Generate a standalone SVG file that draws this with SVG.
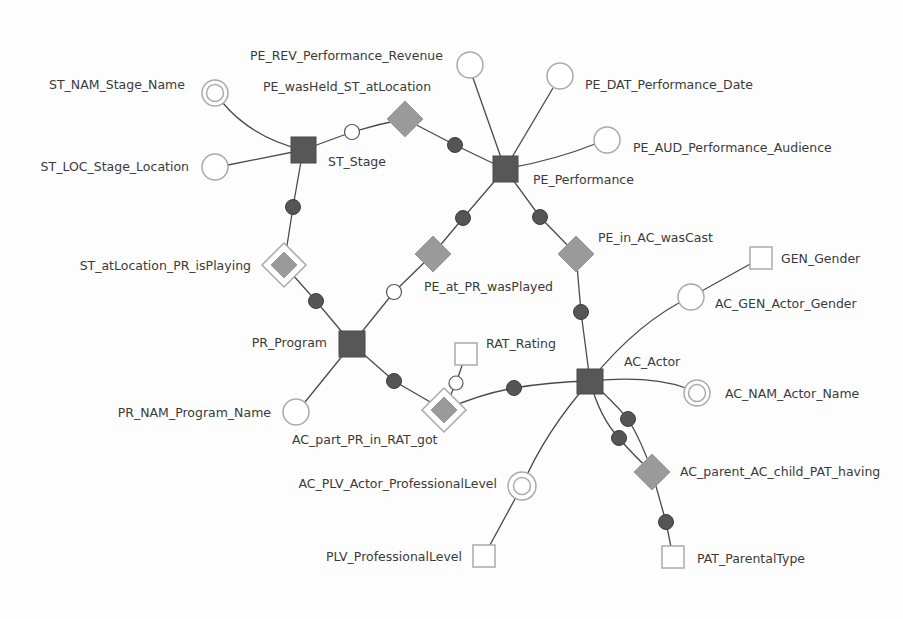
<svg xmlns="http://www.w3.org/2000/svg" width="903" height="619" viewBox="0 0 903 619">
<style>
text{font-family:"DejaVu Sans",Verdana,sans-serif;font-size:12.5px;fill:#3a3a3a}
.e{fill:none;stroke:#4a4a4a;stroke-width:1.3}
.anchor{fill:#575757;stroke:#4a4a4a;stroke-width:1}
.tie{fill:#9a9a9a;stroke:#9a9a9a;stroke-width:1}
.dot{fill:#555;stroke:#3c3c3c;stroke-width:1}
.open{fill:#fff;stroke:#555;stroke-width:1.2}
.attr{fill:#fff;stroke:#aaa;stroke-width:1.5}
.knot{fill:#fff;stroke:#aaa;stroke-width:1.5}
.end{text-anchor:end}
</style>
<rect width="903" height="619" fill="#fdfdfd"/>
<g id="connectors">
<path class="e" d="M222,102 Q252,138 303,150"/>
<path class="e" d="M228,165 L303,150"/>
<path class="e" d="M303,150 Q330,140 352,132 Q378,124 405,119"/>
<path class="e" d="M405,119 L455,145 L505,169"/>
<path class="e" d="M473,78 L505,169"/>
<path class="e" d="M553,88 L505,169"/>
<path class="e" d="M595,144 Q555,160 505,169"/>
<path class="e" d="M505,169 L463,218 L433,254 L394,292 L352,344"/>
<path class="e" d="M505,169 L540,217 L576,254 L581,312 L590,381"/>
<path class="e" d="M303,150 L293,207 L284,265 L316,301 L352,344"/>
<path class="e" d="M352,344 L305,402"/>
<path class="e" d="M352,344 L394,381 L444,410"/>
<path class="e" d="M444,410 L456,383 L466,354"/>
<path class="e" d="M444,410 Q480,394 514,388 Q550,382 590,381"/>
<path class="e" d="M590,381 Q650,375 686,388"/>
<path class="e" d="M590,381 Q640,320 691,297 L761,258"/>
<path class="e" d="M590,381 Q545,432 522,486 L484,556"/>
<path class="e" d="M590,381 Q612,400 628,419 Q642,442 652,472"/>
<path class="e" d="M590,381 Q600,418 619,438 Q633,455 652,472"/>
<path class="e" d="M652,472 L666,522 L673,557"/>
</g>
<g id="ST_NAM_Stage_Name"><circle class="attr" cx="215" cy="93" r="13"/><circle class="attr" cx="215" cy="93" r="8.5"/><text class="end" x="185" y="89">ST_NAM_Stage_Name</text></g>
<g id="ST_LOC_Stage_Location"><circle class="attr" cx="215" cy="167" r="13"/><text class="end" x="189" y="171">ST_LOC_Stage_Location</text></g>
<g id="ST_Stage"><rect class="anchor" x="291" y="137" width="25" height="26"/><text x="328" y="166">ST_Stage</text></g>
<g id="PE_wasHeld_ST_atLocation"><circle class="open" cx="352" cy="132" r="7.5"/><polygon class="tie" points="405,101 423,119 405,137 387,119"/><circle class="dot" cx="455" cy="145" r="7.5"/><text x="263" y="91">PE_wasHeld_ST_atLocation</text></g>
<g id="PE_REV_Performance_Revenue"><circle class="attr" cx="470" cy="65" r="13"/><text x="250" y="60">PE_REV_Performance_Revenue</text></g>
<g id="PE_DAT_Performance_Date"><circle class="attr" cx="560" cy="76" r="13"/><text x="585" y="89">PE_DAT_Performance_Date</text></g>
<g id="PE_AUD_Performance_Audience"><circle class="attr" cx="607" cy="140" r="13"/><text x="633" y="152">PE_AUD_Performance_Audience</text></g>
<g id="PE_Performance"><rect class="anchor" x="493" y="156" width="25" height="26"/><text x="533" y="184">PE_Performance</text></g>
<g id="PE_at_PR_wasPlayed"><circle class="dot" cx="463" cy="218" r="7.5"/><polygon class="tie" points="433,236 451,254 433,272 415,254"/><circle class="open" cx="394" cy="292" r="7.5"/><text x="424" y="291">PE_at_PR_wasPlayed</text></g>
<g id="PE_in_AC_wasCast"><circle class="dot" cx="540" cy="217" r="7.5"/><polygon class="tie" points="576,236 594,254 576,272 558,254"/><circle class="dot" cx="581" cy="312" r="7.5"/><text x="598" y="242">PE_in_AC_wasCast</text></g>
<g id="ST_atLocation_PR_isPlaying"><circle class="dot" cx="293" cy="207" r="7.5"/><polygon points="284,243 306,265 284,287 262,265" fill="#fff" stroke="#aaa" stroke-width="1.5"/><polygon class="tie" points="284,252 297,265 284,278 271,265"/><circle class="dot" cx="316" cy="301" r="7.5"/><text class="end" x="251" y="270">ST_atLocation_PR_isPlaying</text></g>
<g id="PR_Program"><rect class="anchor" x="339" y="331" width="26" height="26"/><text class="end" x="327" y="347">PR_Program</text></g>
<g id="PR_NAM_Program_Name"><circle class="attr" cx="296" cy="412" r="13"/><text class="end" x="271" y="417">PR_NAM_Program_Name</text></g>
<g id="AC_part_PR_in_RAT_got"><circle class="dot" cx="394" cy="381" r="7.5"/><polygon points="444,388 466,410 444,432 422,410" fill="#fff" stroke="#aaa" stroke-width="1.5"/><polygon class="tie" points="444,397 457,410 444,423 431,410"/><circle class="open" cx="456" cy="383" r="7"/><circle class="dot" cx="514" cy="388" r="7.5"/><text x="292" y="444">AC_part_PR_in_RAT_got</text></g>
<g id="RAT_Rating"><rect class="knot" x="455" y="343" width="22" height="22"/><text x="486" y="348">RAT_Rating</text></g>
<g id="AC_Actor"><rect class="anchor" x="577" y="369" width="26" height="25"/><text x="624" y="366">AC_Actor</text></g>
<g id="AC_NAM_Actor_Name"><circle class="attr" cx="697" cy="393" r="13"/><circle class="attr" cx="697" cy="393" r="8.5"/><text x="725" y="398">AC_NAM_Actor_Name</text></g>
<g id="AC_GEN_Actor_Gender"><circle class="attr" cx="691" cy="297" r="13"/><text x="715" y="308">AC_GEN_Actor_Gender</text></g>
<g id="GEN_Gender"><rect class="knot" x="750" y="247" width="22" height="22"/><text x="781" y="263">GEN_Gender</text></g>
<g id="AC_PLV_Actor_ProfessionalLevel"><circle class="attr" cx="522" cy="486" r="14"/><circle class="attr" cx="522" cy="486" r="8.5"/><text class="end" x="497" y="488">AC_PLV_Actor_ProfessionalLevel</text></g>
<g id="PLV_ProfessionalLevel"><rect class="knot" x="473" y="545" width="22" height="22"/><text class="end" x="462" y="561">PLV_ProfessionalLevel</text></g>
<g id="AC_parent_AC_child_PAT_having"><circle class="dot" cx="628" cy="419" r="7.5"/><circle class="dot" cx="619" cy="438" r="7.5"/><polygon class="tie" points="652,454 670,472 652,490 634,472"/><circle class="dot" cx="666" cy="522" r="7.5"/><text x="680" y="476">AC_parent_AC_child_PAT_having</text></g>
<g id="PAT_ParentalType"><rect class="knot" x="662" y="546" width="22" height="22"/><text x="697" y="563">PAT_ParentalType</text></g>
</svg>
